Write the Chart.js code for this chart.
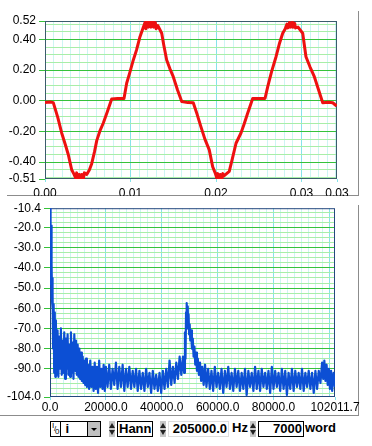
<!DOCTYPE html>
<html>
<head>
<meta charset="utf-8">
<script src="https://cdn.jsdelivr.net/npm/chart.js@4.4.0/dist/chart.umd.min.js"></script>
<style>
  body { margin: 0; background: #fff; width: 372px; height: 446px; position: relative; overflow: hidden;
         font-family: 'Liberation Sans', Arial, sans-serif; }
  canvas { position: absolute; left: 0; }
  #waveCanvas { top: 0; }
  #specCanvas { top: 198px; }
  .frame { position: absolute; border-right: 1px solid #8c8c8c; border-bottom: 1px solid #8c8c8c; }
  .ctl { position: absolute; top: 421px; height: 14px; font: bold 13px 'Liberation Sans', Arial, sans-serif;
         line-height: 14px; color: #000; white-space: nowrap; }
  .box { border: 1px solid #000; background: #fff; padding: 0 1px; box-sizing: content-box; }
  .spin { position: absolute; top: 421px; width: 6px; height: 16px; background: #c8c8c8; }
  .spin::before, .spin::after { content: ''; position: absolute; left: 0; border-left: 3px solid transparent;
         border-right: 3px solid transparent; }
  .spin::before { top: 2px; border-bottom: 5px solid #222; }
  .spin::after { bottom: 2px; border-top: 5px solid #222; }
  .drop { position: absolute; top: 421px; left: 87px; width: 12px; height: 14px; background: #c0c0c0;
          border: 1px solid #000; }
  .drop::after { content: ''; position: absolute; left: 3px; top: 6px; border-left: 3px solid transparent;
          border-right: 3px solid transparent; border-top: 3px solid #000; }
  .io { position: absolute; left: 50px; top: 421px; width: 9px; height: 14px; border: 1px solid #000;
        background: #fff; font: 8px 'Liberation Sans', Arial, sans-serif; overflow: hidden; }
  .io span { position: absolute; line-height: 8px; }
</style>
</head>
<body>
<div class="frame" style="left:7px; top:11px; width:351px; height:184px;"></div>
<div class="frame" style="left:0; top:205px; width:358px; height:210px;"></div>
<canvas id="waveCanvas" width="360" height="196"></canvas>
<canvas id="specCanvas" width="360" height="217"></canvas>

<div class="io"><span style="left:1px;top:0">I</span><span style="left:3px;top:3px">/</span><span style="left:4px;top:6px">0</span></div>
<div class="ctl box" style="left:60px; width:25px;">&nbsp;i</div>
<div class="drop"></div>
<div class="spin" style="left:109px"></div>
<div class="ctl box" style="left:117px; width:32px;">Hann</div>
<div class="spin" style="left:160px"></div>
<div class="ctl box" style="left:168px; width:57px; border-color:#ddd; text-align:right;">205000.0</div>
<div class="ctl" style="left:232px;">Hz</div>
<div class="spin" style="left:250px"></div>
<div class="ctl box" style="left:258px; width:42px; text-align:right;">7000</div>
<div class="ctl" style="left:305px;">word</div>

<script>
// waveform (time in s, amplitude)
const waveTime = [
  0, 0.0006, 0.00097, 0.0015, 0.00195, 0.0024, 0.00272, 0.00312, 0.0034,
  0.0036, 0.0037, 0.0039, 0.0040, 0.0042, 0.0043, 0.0045, 0.0046, 0.00488,
  0.0052, 0.00546, 0.0058, 0.00605, 0.0064, 0.00682, 0.0073, 0.0078,
  0.0085, 0.00924,
  0.00955, 0.0099, 0.01033, 0.0107, 0.01111, 0.0115,
  0.0117, 0.0118, 0.0120, 0.0121, 0.0123, 0.0124, 0.0126, 0.0127, 0.0129, 0.0130, 0.0132,
  0.01365, 0.0139, 0.01423, 0.0146, 0.015, 0.0155, 0.01599,
  0.0167, 0.01734,
  0.0178, 0.01824, 0.0187, 0.01921, 0.01961, 0.0199,
  0.0201, 0.0202, 0.0204, 0.0205, 0.0207, 0.0208, 0.02093,
  0.02155, 0.0219, 0.02234, 0.02292, 0.0233, 0.02371, 0.02429,
  0.0250, 0.02573,
  0.02605, 0.0265, 0.02702, 0.0274, 0.0278, 0.0281,
  0.0283, 0.0284, 0.0286, 0.0287, 0.0289, 0.0290, 0.0292, 0.0293, 0.02959,
  0.03014, 0.03052, 0.0310, 0.0315, 0.0320, 0.03248,
  0.0331, 0.03365, 0.03411
];
const waveVolt = [
  -0.012, -0.008, -0.012, -0.11, -0.21, -0.29, -0.35, -0.45, -0.48,
  -0.505, -0.47, -0.51, -0.48, -0.51, -0.48, -0.505, -0.47, -0.48,
  -0.45, -0.41, -0.33, -0.26, -0.20, -0.145, -0.07, 0.012,
  0.015, 0.015,
  0.114, 0.18, 0.266, 0.33, 0.418, 0.48,
  0.51, 0.47, 0.52, 0.48, 0.52, 0.48, 0.515, 0.48, 0.51, 0.47, 0.49,
  0.44, 0.36, 0.266, 0.21, 0.157, 0.07, -0.005,
  -0.012, -0.013,
  -0.09, -0.17, -0.25, -0.32, -0.43, -0.47,
  -0.505, -0.475, -0.51, -0.48, -0.505, -0.475, -0.49,
  -0.46, -0.38, -0.277, -0.21, -0.15, -0.08, 0.015,
  0.015, 0.015,
  0.092, 0.19, 0.287, 0.37, 0.44, 0.47,
  0.50, 0.475, 0.51, 0.48, 0.51, 0.48, 0.505, 0.475, 0.48,
  0.44, 0.287, 0.22, 0.157, 0.07, -0.013,
  -0.01, -0.013, -0.034
];
const waveXLabels = [0, 0.01, 0.02, 0.03, 0.03415];
const waveYLabels = [-0.51, -0.40, -0.20, 0.00, 0.20, 0.40, 0.52];

// spectrum (Hz, dB)
const specFreq = [
  0, 120, 200, 280, 360, 440, 520, 600, 680, 760,
  840, 920, 1000, 1100, 1300, 1500,
  1700, 1900, 2100, 2400, 2700, 3000, 3300, 3600, 3900, 4200,
  4500, 4800, 5100, 5400, 5700, 6000, 6300, 6600, 6900, 7200,
  7500, 7800, 8100, 8400, 8700, 9000, 9300, 9600, 9900, 10200,
  10500, 10800, 11100, 11400, 11700, 12000, 12300, 12600, 12900, 13200,
  13600, 14000, 14400, 14800, 15200, 15600, 16000, 16400, 16800, 17200,
  17600, 18000, 18400, 18800, 19200, 19600, 20000, 20600, 21200, 21800,
  22400, 23000, 23600, 24200, 24800, 25400, 26000, 26600, 27200, 27800,
  28400, 29000, 29600, 30200, 30800, 31400, 32000, 32600, 33200, 33800,
  34400, 35000, 35600, 36200, 36800, 37400, 38000, 38600, 39200, 39800,
  40400, 41000, 41600, 42200, 42800, 43400, 44000, 44600, 45200, 45800,
  46400, 47000, 47600, 48000, 48300, 48500, 48700, 48850, 49000, 49150,
  49300, 49450, 49600, 49800, 50000, 50200, 50500, 50800, 51100, 51400,
  51700, 52000, 52300, 52600, 52900, 53300, 53700, 54100, 54500, 55000,
  55500, 56000, 56600, 57200, 57800, 58400, 59000, 59600, 60200, 60800,
  61400, 62000, 62600, 63200, 63800, 64400, 65000, 65600, 66200, 66800,
  67400, 68000, 68600, 69200, 69800, 70400, 71000, 71600, 72200, 72800,
  73400, 74000, 74600, 75200, 75800, 76400, 77000, 77600, 78200, 78800,
  79400, 80000, 80600, 81200, 81800, 82400, 83000, 83600, 84200, 84800,
  85400, 86000, 86600, 87200, 87800, 88400, 89000, 89600, 90200, 90800,
  91400, 92000, 92600, 93200, 93800, 94400, 95000, 95600, 96200, 96800,
  97400, 97800, 98200, 98600, 99000, 99400, 99800, 100200, 100600, 101000,
  101500, 102011.7
];
const specDb = [
  -10.4, -30, -11, -48, -19, -52, -21, -55, -38, -57,
  -45, -60, -52, -80, -58, -92,
  -62, -94, -66, -93, -71, -94, -74, -90, -70, -93,
  -76, -92, -72, -95, -75, -90, -73, -93, -78, -94,
  -72, -92, -77, -95, -73, -91, -76, -93, -78, -94,
  -80, -95, -82, -96, -84, -97, -86, -98, -85, -99,
  -88, -100, -86, -99, -89, -101, -87, -100, -89, -102,
  -86, -99, -90, -100, -88, -101, -89, -99, -88, -100,
  -90, -98, -87, -100, -89, -99, -88, -101, -90, -99,
  -89, -100, -91, -99, -90, -101, -91, -100, -92, -101,
  -90, -99, -92, -102, -91, -100, -93, -101, -92, -102,
  -91, -100, -90, -99, -86, -98, -89, -97, -87, -95,
  -84, -93, -84, -92, -72, -85, -62, -70, -57.5, -66,
  -59, -70, -63, -73, -68, -76, -71, -80, -75, -84,
  -79, -88, -82, -91, -85, -93, -87, -96, -89, -98,
  -88, -99, -90, -100, -91, -101, -89, -99, -92, -100,
  -90, -102, -91, -99, -89, -100, -92, -101, -90, -99,
  -91, -101, -92, -100, -90, -103, -91, -99, -92, -101,
  -89, -100, -91, -101, -90, -99, -92, -100, -91, -102,
  -89, -100, -91, -99, -92, -101, -90, -100, -91, -103,
  -92, -100, -90, -101, -91, -99, -92, -100, -90, -101,
  -92, -99, -91, -100, -92, -102, -91, -100, -91, -97,
  -87, -95, -86, -96, -88, -98, -90, -100, -91, -101,
  -92, -99
];
const specXLabels = [0, 20000, 40000, 60000, 80000, 102011.7];
const specYLabels = [-104, -90, -80, -70, -60, -50, -40, -30, -20, -10.4];

const FONT = { family: "'Liberation Sans', Arial, sans-serif", size: 12 };

function near(v, list) {
  return list.some(m => Math.abs(m - v) < 1e-7);
}

// min, every step in between, max -> used for the fine grid
function stepTicks(min, max, step) {
  const out = [min];
  for (let k = Math.floor(min / step) + 1; k * step < max - 1e-9; k++) out.push(+(k * step).toFixed(6));
  out.push(max);
  return out.map(value => ({ value }));
}

// white plot area + dark frame under the trace
const plotFrame = {
  id: 'plotFrame',
  beforeDraw(chart) {
    const a = chart.chartArea, ctx = chart.ctx;
    ctx.save();
    ctx.fillStyle = '#fff';
    ctx.fillRect(a.left, a.top, a.right - a.left, a.bottom - a.top);
    ctx.restore();
  },
  beforeDatasetsDraw(chart, args, opts) {
    const a = chart.chartArea, ctx = chart.ctx;
    ctx.save();
    ctx.strokeStyle = opts.color;
    ctx.lineWidth = 1;
    ctx.strokeRect(a.left + 0.5, a.top + 0.5, a.right - a.left - 1, a.bottom - a.top - 1);
    ctx.restore();
  }
};

function makeChart(id, cfg) {
  const xMin = cfg.xLabels[0], xMax = cfg.xLabels[cfg.xLabels.length - 1];
  const yMin = cfg.yLabels[0], yMax = cfg.yLabels[cfg.yLabels.length - 1];
  const isEdge = (v, lo, hi) => Math.abs(v - lo) < 1e-7 || Math.abs(v - hi) < 1e-7;

  return new Chart(document.getElementById(id), {
    type: 'line',
    data: {
      datasets: [{
        data: cfg.xs.map((x, i) => ({ x, y: cfg.ys[i] })),
        borderColor: cfg.color,
        borderWidth: cfg.width,
        borderJoinStyle: 'round',
        pointRadius: 0,
        tension: 0
      }]
    },
    options: {
      responsive: false,
      animation: false,
      events: [],
      layout: { padding: cfg.padding },
      plugins: { legend: { display: false }, tooltip: { enabled: false }, plotFrame: { color: cfg.frame } },
      scales: {
        x: {
          type: 'linear',
          min: xMin,
          max: xMax,
          afterBuildTicks: s => { s.ticks = stepTicks(xMin, xMax, cfg.xStep); },
          afterFit: s => { s.height = cfg.xHeight; },
          border: { display: false },
          grid: {
            color: c => isEdge(c.tick.value, xMin, xMax) ? 'rgba(0,0,0,0)'
              : (cfg.xMajor(c.tick.value) ? '#86e4ea' : '#cdf5f3'),
            tickColor: c => near(c.tick.value, cfg.xLabels) ? '#86e4ea' : 'rgba(0,0,0,0)',
            tickLength: 3
          },
          ticks: {
            autoSkip: false, maxRotation: 0, minRotation: 0, padding: cfg.xPad,
            color: '#000', font: FONT,
            callback: v => near(v, cfg.xLabels) ? v.toFixed(cfg.xDigits) : ''
          }
        },
        y: {
          type: 'linear',
          min: yMin,
          max: yMax,
          afterBuildTicks: s => { s.ticks = stepTicks(yMin, yMax, cfg.yStep); },
          afterFit: s => { s.width = cfg.yWidth; },
          border: { display: false },
          grid: {
            color: c => isEdge(c.tick.value, yMin, yMax) ? 'rgba(0,0,0,0)'
              : (near(c.tick.value, cfg.yLabels) ? '#36c23a' : '#a8eea8'),
            tickColor: c => near(c.tick.value, cfg.yLabels) ? '#36c23a' : 'rgba(0,0,0,0)',
            tickLength: 6
          },
          ticks: {
            autoSkip: false, padding: 3, color: '#000', font: FONT,
            callback: v => near(v, cfg.yLabels) ? v.toFixed(cfg.yDigits) : ''
          }
        }
      }
    },
    plugins: [plotFrame]
  });
}

makeChart('waveCanvas', {
  xs: waveTime, ys: waveVolt, color: '#ee1010', width: 3, frame: '#3b5c6c',
  xLabels: waveXLabels, yLabels: waveYLabels,
  xStep: 0.001, yStep: 0.05, xDigits: 2, yDigits: 2,
  xMajor: v => Math.abs(v / 0.01 - Math.round(v / 0.01)) < 1e-6,
  padding: { left: 0, top: 21, right: 23, bottom: 0 },
  yWidth: 45, xHeight: 17, xPad: 4
});

makeChart('specCanvas', {
  xs: specFreq, ys: specDb, color: '#0c4fd4', width: 2.2, frame: '#24487e',
  xLabels: specXLabels, yLabels: specYLabels,
  xStep: 2500, yStep: 2.5, xDigits: 1, yDigits: 1,
  xMajor: v => v % 20000 === 0,
  padding: { left: 0, top: 10, right: 25, bottom: 0 },
  yWidth: 50, xHeight: 18, xPad: 0
});
</script>
</body>
</html>
